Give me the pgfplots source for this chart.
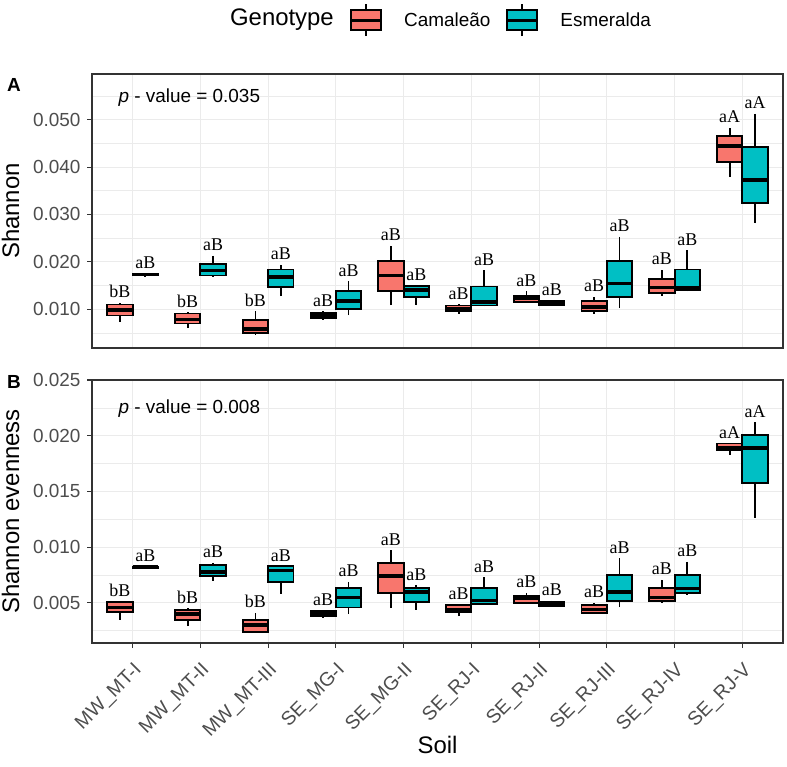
\documentclass[border=0pt]{standalone}
\usepackage{fontspec}
\setmainfont{Liberation Sans}
\newfontfamily\lettersfont{Liberation Serif}
\usepackage{pgfplots}
\usepackage{pgfplotstable}
\pgfplotsset{compat=1.18}
\usepgfplotslibrary{statistics}

\definecolor{camaleao}{HTML}{F8766D}
\definecolor{esmeralda}{HTML}{00BFC4}
\definecolor{gridgray}{HTML}{EBEBEB}
\definecolor{framegray}{HTML}{333333}
\definecolor{ticktext}{HTML}{4D4D4D}

% Shannon: soil index, whiskers, quartiles, median, letters
\pgfplotstableread{
soil lw lq med uq uw lab
1  0.0073 0.0087 0.0098 0.0110 0.0114 bB
2  0.0060 0.0070 0.0078 0.0091 0.0094 bB
3  0.0046 0.0050 0.0058 0.0077 0.0096 bB
4  0.0078 0.0081 0.0086 0.0092 0.0096 aB
5  0.0108 0.0138 0.0171 0.0201 0.0234 aB
6  0.0090 0.0096 0.0102 0.0108 0.0110 aB
7  0.0114 0.0115 0.0124 0.0129 0.0138 aB
8  0.0090 0.0096 0.0105 0.0117 0.0126 aB
9  0.0129 0.0134 0.0146 0.0164 0.0183 aB
10 0.0379 0.0411 0.0444 0.0465 0.0483 aA
}\ShanCam
\pgfplotstableread{
soil lw lq med uq uw lab
1  0.0169 0.01715 0.0173 0.01745 0.0176 aB
2  0.0168 0.0171 0.0182 0.0196 0.0213 aB
3  0.0127 0.0147 0.0168 0.0184 0.0194 aB
4  0.0087 0.0100 0.0117 0.0138 0.0159 aB
5  0.0108 0.0126 0.0140 0.0149 0.0150 aB
6  0.0106 0.0108 0.0115 0.0148 0.0182 aB
7  0.0107 0.0108 0.0113 0.0117 0.0119 aB
8  0.0102 0.0126 0.0154 0.0201 0.0253 aB
9  0.0138 0.0140 0.0146 0.0184 0.0224 aB
10 0.0281 0.0325 0.0373 0.0442 0.0513 aA
}\ShanEsm
% Shannon evenness
\pgfplotstableread{
soil lw lq med uq uw lab
1  0.0035 0.0042 0.0046 0.0051 0.0051 bB
2  0.0029 0.0035 0.0040 0.0044 0.0045 bB
3  0.0024 0.0024 0.0030 0.0035 0.0041 bB
4  0.0036 0.0038 0.0040 0.0043 0.0043 aB
5  0.0045 0.0059 0.0074 0.0086 0.0097 aB
6  0.0038 0.0042 0.0044 0.0048 0.0049 aB
7  0.0049 0.0050 0.0054 0.0056 0.0059 aB
8  0.0040 0.0041 0.0044 0.0048 0.0050 aB
9  0.0050 0.0052 0.0055 0.0063 0.0071 aB
10 0.0183 0.0187 0.0189 0.0193 0.0193 aA
}\EvenCam
\pgfplotstableread{
soil lw lq med uq uw lab
1  0.0081 0.00815 0.0082 0.00825 0.0083 aB
2  0.0070 0.0074 0.0078 0.0084 0.0086 aB
3  0.0058 0.0069 0.0079 0.0083 0.0083 aB
4  0.0040 0.0046 0.0055 0.0063 0.0069 aB
5  0.0044 0.0051 0.0060 0.0063 0.0066 aB
6  0.0049 0.0049 0.0052 0.0063 0.0073 aB
7  0.0047 0.0047 0.0049 0.0051 0.0052 aB
8  0.0046 0.0052 0.0060 0.0075 0.0090 aB
9  0.0057 0.0059 0.0063 0.0075 0.0087 aB
10 0.0126 0.0158 0.0189 0.0201 0.0212 aA
}\EvenEsm

% the axes run in thousandths; tick labels divide back
\pgfplotsset{
  soilax/.style={
    scale only axis, width=691bp, clip=false,
    xmin=0.4, xmax=10.6, xtick={1,...,10},
    xmajorgrids, ymajorgrids, yminorgrids,
    major grid style={draw=gridgray, line width=1.1bp},
    minor grid style={draw=gridgray, line width=0.55bp},
    axis line style={draw=framegray, line width=1.1bp},
    tick align=outside, major tick length=5bp, minor tick length=0bp,
    xtick pos=left, ytick pos=left,
    every tick/.style={draw=framegray, line width=1.1bp},
    scaled y ticks=false,
    yticklabel={\pgfmathparse{\tick/1000}\pgfmathprintnumber[fixed, fixed zerofill, precision=3, assume math mode=true]{\pgfmathresult}},
    yticklabel style={font=\fontsize{19}{19}\selectfont, text=ticktext, xshift=-3bp},
    boxplot/draw direction=y,
    boxplot/box extend=0.375, boxplot/whisker extend=0,
    boxplot/every box/.style={line width=1.8bp},
    boxplot/every median/.style={line width=3.6bp},
    boxplot/every whisker/.style={line width=1.8bp},
  },
  letters/.style={nodes near coords, point meta=explicit symbolic, draw=none, mark=none, forget plot,
    nodes near coords style={font=\lettersfont\fontsize{18}{18}\selectfont, text=black,
      anchor=base, inner sep=0pt, yshift=5bp}},
  boxlegend/.style={legend image code/.code={
    \draw[black, line width=1.8bp] (15bp,-16bp) -- (15bp,16bp);
    \draw[fill=#1, draw=black, line width=1.8bp] (0bp,-10bp) rectangle (30bp,10bp);
    \draw[black, line width=3bp] (0bp,0bp) -- (30bp,0bp);}},
}

% draw one genotype's boxes from table #1, shifted by #2, filled with #3
\newcommand{\getk}[3]{\pgfplotstablegetelem{#1}{#2}\of{#3}\pgfmathsetmacro\vv{1000*\pgfplotsretval}}
\newcommand{\boxes}[3]{%
  \pgfplotsinvokeforeach{0,...,9}{%
    \getk{##1}{lw}{#1}\let\vlw\vv
    \getk{##1}{lq}{#1}\let\vlq\vv
    \getk{##1}{med}{#1}\let\vmed\vv
    \getk{##1}{uq}{#1}\let\vuq\vv
    \getk{##1}{uw}{#1}\let\vuw\vv
    \pgfmathsetmacro\vpos{##1+1+#2}%
    \edef\temp{\noexpand\addplot[forget plot, boxplot prepared={draw position=\vpos,
        lower whisker=\vlw, lower quartile=\vlq, median=\vmed,
        upper quartile=\vuq, upper whisker=\vuw},
      fill=#3, draw=black, line width=1.8bp] coordinates {};}%
    \temp
  }%
  \addplot[letters] table[x expr=\thisrow{soil}+#2, y expr=1000*\thisrow{uw}, meta=lab] {#1};
}

\begin{document}
\begin{tikzpicture}
\useasboundingbox (0,0) rectangle (787bp,-767bp);

\begin{axis}[soilax, at={(92bp,-348bp)}, anchor=south west, height=274bp,
  ymin=1.82, ymax=59.64,
  ytick={10,20,30,40,50},
  minor ytick={5,15,25,35,45,55},
  xticklabels={}, x tick style={draw=none},
  legend style={at={(axis description cs:0.3676,1.197)}, anchor=west,
    draw=none, fill=none, legend columns=-1,
    font=\fontsize{19}{19}\selectfont, nodes={inner sep=0pt},
    /tikz/every even column/.append style={column sep=15bp},
    /tikz/every odd column/.append style={column sep=22bp}},
  ]
\boxes{\ShanCam}{-0.1875}{camaleao}
\boxes{\ShanEsm}{0.1875}{esmeralda}
\addlegendimage{boxlegend=camaleao}
\addlegendentry{Camaleão}
\addlegendimage{boxlegend=esmeralda}
\addlegendentry{Esmeralda}
\node[anchor=west, font=\fontsize{19}{19}\selectfont] at (axis description cs:0.0333,0.9124) {\itshape p\upshape{} - value = 0.035};
\node[font=\bfseries\fontsize{19}{19}\selectfont] at (axis description cs:-0.1129,0.9599) {A};
\node[anchor=east, font=\fontsize{24}{24}\selectfont, inner sep=0pt] at (axis description cs:0.3502,1.197) {Genotype};
\node[rotate=90, font=\fontsize{24}{24}\selectfont, inner sep=0pt] at (axis description cs:-0.1179,0.5) {Shannon};
\end{axis}

\begin{axis}[soilax, at={(92bp,-643bp)}, anchor=south west, height=263bp,
  ymin=1.4, ymax=25.0,
  ytick={5,10,15,20,25},
  minor ytick={2.5,7.5,12.5,17.5,22.5},
  xticklabels={MW\_MT-I,MW\_MT-II,MW\_MT-III,SE\_MG-I,SE\_MG-II,SE\_RJ-I,SE\_RJ-II,SE\_RJ-III,SE\_RJ-IV,SE\_RJ-V},
  xticklabel style={font=\fontsize{19.5}{19.5}\selectfont, text=ticktext, yshift=-13bp, rotate=45, anchor=north east, inner sep=0pt},
  ]
\boxes{\EvenCam}{-0.1875}{camaleao}
\boxes{\EvenEsm}{0.1875}{esmeralda}
\node[anchor=west, font=\fontsize{19}{19}\selectfont] at (axis description cs:0.0333,0.8897) {\itshape p\upshape{} - value = 0.008};
\node[font=\bfseries\fontsize{19}{19}\selectfont] at (axis description cs:-0.1129,0.9924) {B};
\node[rotate=90, font=\fontsize{24}{24}\selectfont, inner sep=0pt] at (axis description cs:-0.1179,0.5) {Shannon evenness};
\node[font=\fontsize{24}{24}\selectfont] at (axis description cs:0.5,-0.3878) {Soil};
\end{axis}
\end{tikzpicture}
\end{document}
